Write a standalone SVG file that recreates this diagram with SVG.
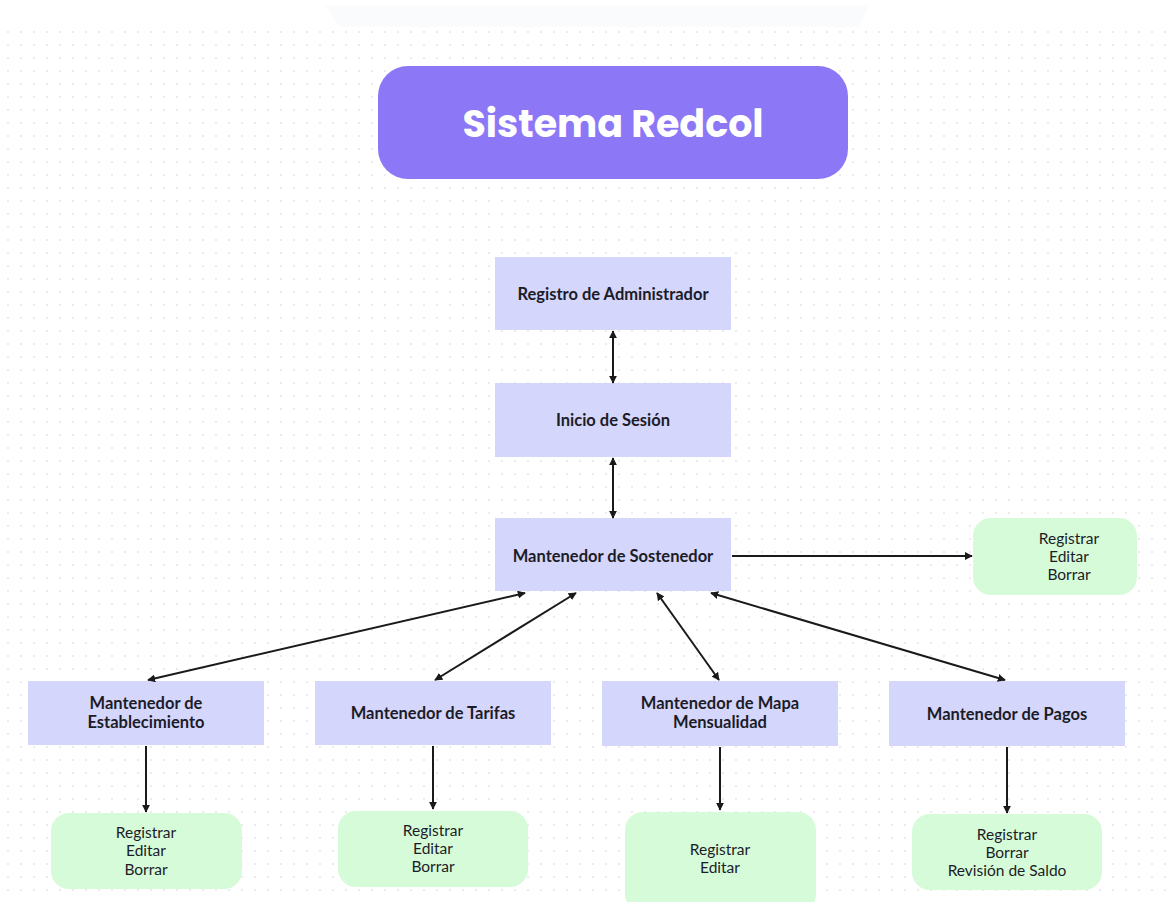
<svg xmlns="http://www.w3.org/2000/svg" width="1172" height="902" viewBox="0 0 1172 902">
<defs>
<pattern id="dots" x="6" y="30" width="13" height="13" patternUnits="userSpaceOnUse">
<circle cx="2" cy="2" r="1" fill="#e4e4e8"/>
</pattern>
<marker id="ah" viewBox="0 0 10 10" refX="9" refY="5" markerWidth="8" markerHeight="8" markerUnits="userSpaceOnUse" orient="auto-start-reverse">
<path d="M0,0 L10,5 L0,10 z" fill="#1a1a1a"/>
</marker>
<style>
.blue{fill:#d4d6fb}
.green{fill:#d6fbd8}
.lbl{font-family:Lato,"Liberation Sans",sans-serif;font-weight:700;font-size:16.5px;fill:#1c1c28;text-anchor:middle}
.itm{font-family:Lato,"Liberation Sans",sans-serif;font-size:15.5px;fill:#1c1c28;text-anchor:middle}
.con{stroke:#1a1a1a;stroke-width:2;fill:none}
</style>
</defs>
<rect width="1172" height="902" fill="#ffffff"/>
<rect x="0" y="30" width="1172" height="872" fill="url(#dots)"/>
<polygon points="325,5 870,5 858,27 340,27" fill="#fafbfc"/>

<g id="title">
<rect x="378" y="66" width="470" height="113" rx="30" fill="#8c77f7"/>
<text x="613" y="137" font-family="Poppins,Inter,'Liberation Sans',sans-serif" font-weight="700" font-size="38" fill="#ffffff" text-anchor="middle">Sistema Redcol</text>
</g>

<g id="registro">
<rect class="blue" x="495" y="257" width="236" height="73"/>
<text class="lbl" x="613" y="300">Registro de Administrador</text>
</g>
<g id="inicio">
<rect class="blue" x="495" y="383" width="236" height="74"/>
<text class="lbl" x="613" y="426">Inicio de Sesión</text>
</g>
<g id="sostenedor">
<rect class="blue" x="495" y="518" width="236" height="73"/>
<text class="lbl" x="613" y="562">Mantenedor de Sostenedor</text>
</g>
<g id="sost-acciones">
<rect class="green" x="973" y="518" width="164" height="77" rx="18"/>
<text class="itm" x="1069" y="544">Registrar</text>
<text class="itm" x="1069" y="562">Editar</text>
<text class="itm" x="1069" y="580">Borrar</text>
</g>

<g id="establecimiento">
<rect class="blue" x="28" y="681" width="236" height="64"/>
<text class="lbl" x="146" y="709">Mantenedor de</text>
<text class="lbl" x="146" y="728">Establecimiento</text>
</g>
<g id="tarifas">
<rect class="blue" x="315" y="681" width="236" height="64"/>
<text class="lbl" x="433" y="719">Mantenedor de Tarifas</text>
</g>
<g id="mapa">
<rect class="blue" x="602" y="681" width="236" height="65"/>
<text class="lbl" x="720" y="709">Mantenedor de Mapa</text>
<text class="lbl" x="720" y="728">Mensualidad</text>
</g>
<g id="pagos">
<rect class="blue" x="889" y="681" width="236" height="65"/>
<text class="lbl" x="1007" y="720">Mantenedor de Pagos</text>
</g>

<g id="est-acciones">
<rect class="green" x="51" y="813" width="191" height="76" rx="18"/>
<text class="itm" x="146" y="838">Registrar</text>
<text class="itm" x="146" y="856">Editar</text>
<text class="itm" x="146" y="875">Borrar</text>
</g>
<g id="tar-acciones">
<rect class="green" x="338" y="811" width="190" height="76" rx="18"/>
<text class="itm" x="433" y="836">Registrar</text>
<text class="itm" x="433" y="854">Editar</text>
<text class="itm" x="433" y="872">Borrar</text>
</g>
<g id="mapa-acciones">
<rect class="green" x="625" y="812" width="191" height="100" rx="18"/>
<text class="itm" x="720" y="855">Registrar</text>
<text class="itm" x="720" y="873">Editar</text>
</g>
<g id="pagos-acciones">
<rect class="green" x="912" y="814" width="190" height="76" rx="18"/>
<text class="itm" x="1007" y="840">Registrar</text>
<text class="itm" x="1007" y="858">Borrar</text>
<text class="itm" x="1007" y="876">Revisión de Saldo</text>
</g>

<g id="connectors">
<line class="con" x1="613" y1="331" x2="613" y2="383" marker-start="url(#ah)" marker-end="url(#ah)"/>
<line class="con" x1="613" y1="458" x2="613" y2="518" marker-start="url(#ah)" marker-end="url(#ah)"/>
<line class="con" x1="732" y1="556" x2="972" y2="556" marker-end="url(#ah)"/>
<line class="con" x1="525" y1="593" x2="148" y2="680" marker-start="url(#ah)" marker-end="url(#ah)"/>
<line class="con" x1="576" y1="593" x2="435" y2="680" marker-start="url(#ah)" marker-end="url(#ah)"/>
<line class="con" x1="657" y1="593" x2="719" y2="680" marker-start="url(#ah)" marker-end="url(#ah)"/>
<line class="con" x1="711" y1="593" x2="1005" y2="680" marker-start="url(#ah)" marker-end="url(#ah)"/>
<line class="con" x1="146" y1="746" x2="146" y2="812" marker-end="url(#ah)"/>
<line class="con" x1="433" y1="746" x2="433" y2="809" marker-end="url(#ah)"/>
<line class="con" x1="720" y1="747" x2="720" y2="810" marker-end="url(#ah)"/>
<line class="con" x1="1007" y1="747" x2="1007" y2="813" marker-end="url(#ah)"/>
</g>
</svg>
